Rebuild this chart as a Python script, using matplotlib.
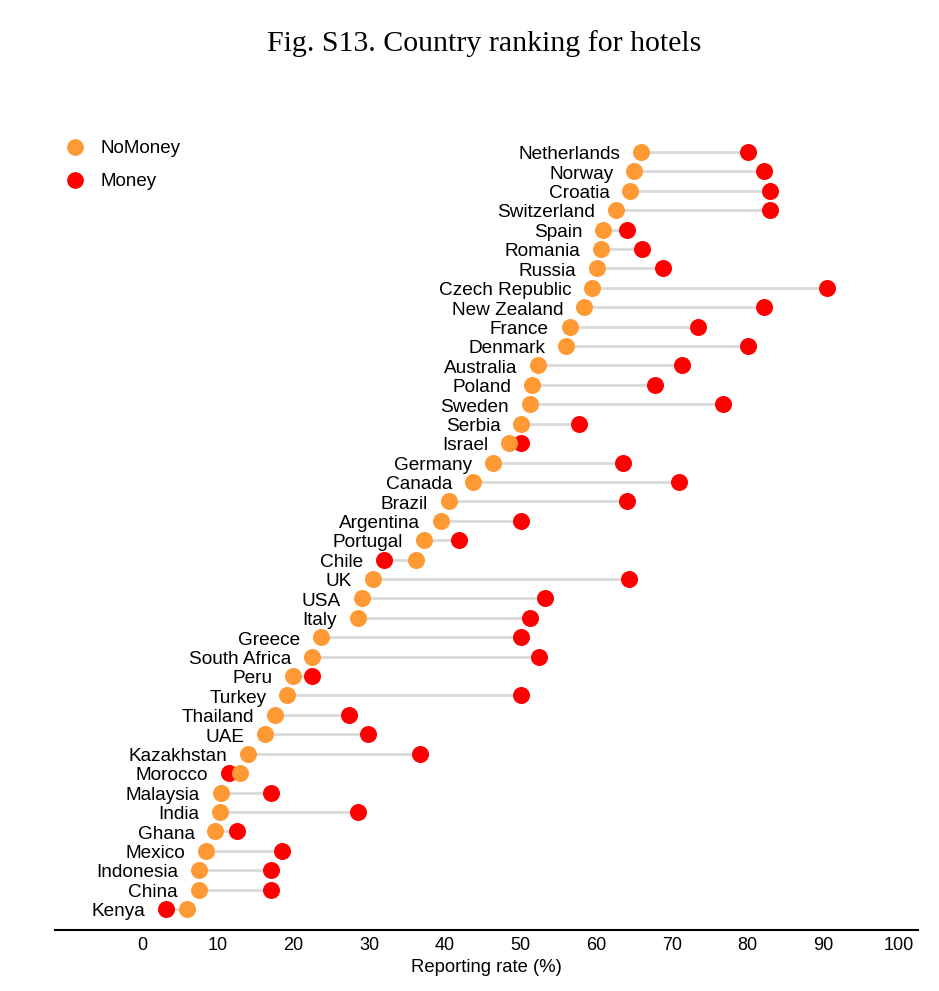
import matplotlib
matplotlib.use("Agg")
import matplotlib.pyplot as plt
from matplotlib.lines import Line2D

countries = ["Netherlands", "Norway", "Croatia", "Switzerland", "Spain", "Romania",
             "Russia", "Czech Republic", "New Zealand", "France", "Denmark", "Australia",
             "Poland", "Sweden", "Serbia", "Israel", "Germany", "Canada", "Brazil",
             "Argentina", "Portugal", "Chile", "UK", "USA", "Italy", "Greece",
             "South Africa", "Peru", "Turkey", "Thailand", "UAE", "Kazakhstan",
             "Morocco", "Malaysia", "India", "Ghana", "Mexico", "Indonesia", "China", "Kenya"]
no_money = [65.9, 65.0, 64.5, 62.6, 60.9, 60.6, 60.1, 59.5, 58.4, 56.5, 56.0, 52.3,
            51.5, 51.2, 50.1, 48.5, 46.3, 43.7, 40.5, 39.5, 37.2, 36.2, 30.5, 29.0,
            28.5, 23.6, 22.5, 20.0, 19.2, 17.5, 16.3, 14.0, 13.0, 10.4, 10.3, 9.7,
            8.5, 7.5, 7.5, 5.9]
money = [80.1, 82.1, 82.9, 83.0, 64.1, 66.0, 68.8, 90.5, 82.2, 73.4, 80.0, 71.3,
         67.8, 76.8, 57.7, 50.0, 63.5, 70.9, 64.1, 50.0, 41.9, 32.0, 64.3, 53.2,
         51.2, 50.0, 52.5, 22.5, 50.0, 27.4, 29.8, 36.7, 11.5, 17.0, 28.5, 12.5,
         18.5, 17.0, 17.0, 3.2]
xticks = [0, 10, 20, 30, 40, 50, 60, 70, 80, 90, 100]

ORANGE = "#FF9933"
RED = "#FF0000"
W, H = 939, 991
fig = plt.figure(figsize=(W / 100, H / 100), dpi=100)
ax = fig.add_axes([55 / W, (H - 930) / H, (918 - 55) / W, (930 - 110) / H])

n = len(countries)
ys = [n - 1 - i for i in range(n)]
for y, a, b in zip(ys, no_money, money):
    ax.plot([a, b], [y, y], color="#d9d9d9", lw=2, zorder=1, solid_capstyle="butt")
ax.scatter(money, ys, s=150, color=RED, zorder=2, linewidths=0)
ax.scatter(no_money, ys, s=150, color=ORANGE, zorder=3, linewidths=0)

for y, a, b, c in zip(ys, no_money, money, countries):
    ax.annotate(c, (min(a, b), y), xytext=(-15, -2), textcoords="offset points",
                ha="right", va="center", fontsize=13.7, family="Liberation Sans")

ax.set_xlim(-11.5, 102.5)
ax.set_ylim(-1.08, n - 1 + 2.16)
ax.set_yticks([])
ax.set_xticks(xticks)
ax.set_xticklabels([str(t) for t in xticks], fontsize=13, family="Liberation Sans")
ax.tick_params(axis="x", length=0, pad=5)
for s in ["top", "right", "left"]:
    ax.spines[s].set_visible(False)
ax.spines["bottom"].set_linewidth(1.5)
ax.set_xlabel("Reporting rate (%)", fontsize=13.3, family="Liberation Sans", labelpad=4)

handles = [Line2D([], [], marker="o", ls="", color=ORANGE, markersize=12, markeredgewidth=0),
           Line2D([], [], marker="o", ls="", color=RED, markersize=12, markeredgewidth=0)]
fig.legend(handles, ["NoMoney", "Money"], loc="upper left",
           bbox_to_anchor=(61 / W, 1 - 140 / H), frameon=False,
           prop={"family": "Liberation Sans", "size": 13.5}, handletextpad=0.6,
           labelspacing=0.85, borderaxespad=0, borderpad=0, handlelength=1.5)

fig.text(484 / W, 1 - 44 / H, "Fig. S13. Country ranking for hotels", ha="center",
         va="center", fontsize=21.5, family="Liberation Serif")

fig.savefig("out.png", dpi=100)
